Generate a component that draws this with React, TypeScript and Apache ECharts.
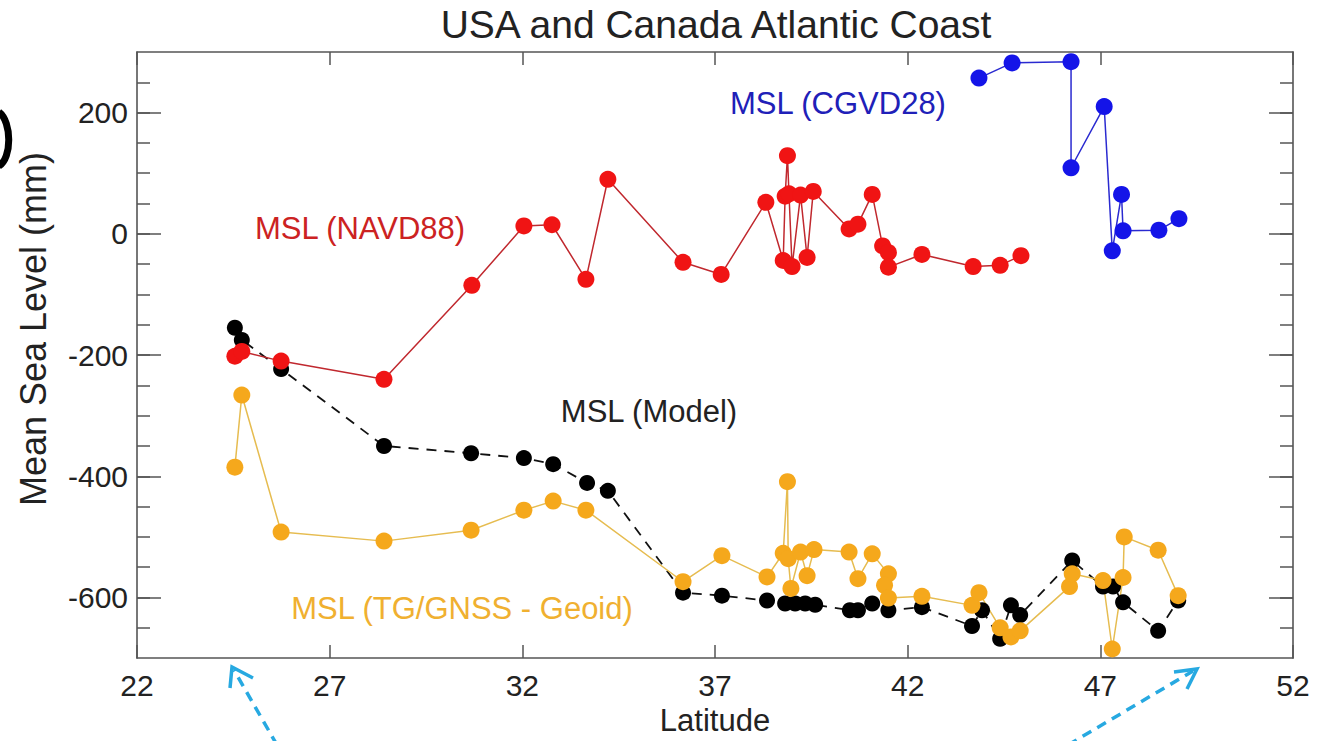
import React, { useEffect, useRef } from "react";
import * as echarts from "echarts";

const FONT = "'Liberation Sans', Arial, Helvetica, sans-serif";

// Tick labels
const xTickValues = [22, 27, 32, 37, 42, 47, 52];
const yLabelValues = [-600, -400, -200, 0, 200];
const yMinorTicks = [-650, -600, -550, -500, -450, -400, -350, -300, -250, -200, -150, -100, -50, 0, 50, 100, 150, 200, 250];

// MSL (NAVD88) - red
const latRed = [24.54, 24.72, 25.74, 28.41, 30.69, 32.04, 32.77, 33.65, 34.22, 36.17, 37.16, 38.32, 38.77, 38.82, 38.88, 38.92, 39.0, 39.22, 39.39, 39.55, 40.48, 40.71, 41.08, 41.35, 41.5, 41.5, 42.37, 43.7, 44.4, 44.94];
const mslRed = [-202, -194, -210, -240, -85, 13, 15, -75, 90, -47, -67, 52, -44, 62, 129, 66, -54, 64, -39, 70, 8, 16, 65, -20, -31, -55, -34, -54, -52, -36];

// MSL (CGVD28) - blue
const latBlue = [43.85, 44.71, 46.24, 46.24, 47.1, 47.31, 47.55, 47.59, 48.52, 49.04];
const mslBlue = [257, 282, 284, 109, 210, -28, 65, 5, 6, 25];

// MSL (Model) - black dashed
const latModel = [24.54, 24.72, 25.74, 28.41, 30.67, 32.04, 32.8, 33.68, 34.22, 36.17, 37.18, 38.35, 38.82, 39.08, 39.34, 39.6, 40.5, 40.71, 41.08, 41.5, 42.37, 43.67, 43.93, 44.4, 44.68, 44.92, 46.27, 47.07, 47.33, 47.59, 48.5, 49.02];
const mslModel = [-155, -175, -223, -350, -362, -370, -380, -411, -424, -592, -597, -605, -610, -610, -610, -612, -621, -621, -610, -621, -616, -647, -621, -668, -613, -629, -539, -582, -582, -608, -655, -605];

// MSL (TG/GNSS - Geoid) - orange
const latTG = [24.54, 24.72, 25.74, 28.41, 30.67, 32.04, 32.8, 33.65, 36.17, 37.18, 38.35, 38.77, 38.88, 38.9, 38.97, 39.22, 39.39, 39.57, 40.48, 40.71, 41.08, 41.5, 41.4, 41.5, 42.37, 43.67, 43.85, 44.4, 44.68, 44.92, 46.2, 46.27, 47.07, 47.31, 47.59, 47.62, 48.5, 49.02];
const mslTG = [-385, -266, -492, -507, -489, -456, -441, -456, -574, -531, -566, -527, -409, -536, -585, -525, -564, -521, -525, -569, -528, -561, -580, -601, -598, -613, -592, -650, -665, -655, -582, -561, -572, -685, -567, -500, -522, -597];

const pair = (xs: number[], ys: number[]) => xs.map((x, i) => [x, ys[i]]);

export default function App() {
  const ref = useRef<HTMLDivElement>(null);
  useEffect(() => {
    if (!ref.current) return;
    const chart = echarts.init(ref.current, undefined, { renderer: "svg" });
    const axisColor = "#555";
    const yBase = {
      type: "value",
      min: -700,
      max: 300,
      splitLine: { show: false },
    };
    const xLine = { show: true, onZero: false, lineStyle: { color: axisColor, width: 1.6 } };
    const yLine = { show: true, onZero: false, lineStyle: { color: axisColor, width: 1.6 } };
    const option: any = {
      animation: false,
      backgroundColor: "#fff",
      grid: { left: 137, right: 26, top: 52, bottom: 75 },
      xAxis: [
        {
          type: "value",
          min: 22,
          max: 52,
          position: "bottom",
          axisLine: xLine,
          axisTick: { show: true, inside: true, length: 13, customValues: xTickValues, lineStyle: { color: axisColor, width: 1.5 } },
          axisLabel: { customValues: xTickValues, fontSize: 30, color: "#222", margin: 12, fontFamily: FONT },
          splitLine: { show: false },
          name: "Latitude",
          nameLocation: "middle",
          nameGap: 44,
          nameTextStyle: { fontSize: 31, color: "#222", fontFamily: FONT },
        },
        {
          type: "value",
          min: 22,
          max: 52,
          position: "top",
          axisLine: xLine,
          axisTick: { show: true, inside: true, length: 13, customValues: xTickValues, lineStyle: { color: axisColor, width: 1.5 } },
          axisLabel: { show: false },
          splitLine: { show: false },
        },
      ],
      yAxis: [
        {
          ...yBase,
          position: "left",
          axisLine: yLine,
          axisTick: { show: true, inside: true, length: 13, customValues: yMinorTicks, lineStyle: { color: axisColor, width: 1.5 } },
          axisLabel: { customValues: yLabelValues, fontSize: 30, color: "#222", margin: 9, fontFamily: FONT },
        },
        {
          ...yBase,
          position: "left",
          axisLine: { show: false, onZero: false },
          axisTick: { show: true, inside: true, length: 24, customValues: yLabelValues, lineStyle: { color: axisColor, width: 1.5 } },
          axisLabel: { show: false },
        },
        {
          ...yBase,
          position: "right",
          axisLine: yLine,
          axisTick: { show: true, inside: true, length: 13, customValues: yMinorTicks, lineStyle: { color: axisColor, width: 1.5 } },
          axisLabel: { show: false },
        },
        {
          ...yBase,
          position: "right",
          axisLine: { show: false, onZero: false },
          axisTick: { show: true, inside: true, length: 24, customValues: yLabelValues, lineStyle: { color: axisColor, width: 1.5 } },
          axisLabel: { show: false },
        },
      ],
      series: [
        {
          name: "MSL (Model)",
          type: "line",
          data: pair(latModel, mslModel),
          symbol: "circle",
          symbolSize: 16,
          itemStyle: { color: "#000" },
          lineStyle: { color: "#111", width: 1.8, type: [10, 8] },
        },
        {
          name: "MSL (NAVD88)",
          type: "line",
          data: pair(latRed, mslRed),
          symbol: "circle",
          symbolSize: 17,
          itemStyle: { color: "#f01414" },
          lineStyle: { color: "#c0282e", width: 1.5 },
        },
        {
          name: "MSL (CGVD28)",
          type: "line",
          data: pair(latBlue, mslBlue),
          symbol: "circle",
          symbolSize: 17,
          itemStyle: { color: "#1414e8" },
          lineStyle: { color: "#2a2ad0", width: 1.5 },
        },
        {
          name: "MSL (TG/GNSS - Geoid)",
          type: "line",
          data: pair(latTG, mslTG),
          symbol: "circle",
          symbolSize: 17,
          itemStyle: { color: "#f5a81c" },
          lineStyle: { color: "#e6bc50", width: 1.5 },
        },
      ],
      graphic: [
        {
          type: "text",
          x: 716,
          y: 24,
          style: { text: "USA and Canada Atlantic Coast", fontSize: 39, fill: "#222", fontFamily: FONT, textAlign: "center", textVerticalAlign: "middle" },
        },
        {
          type: "text",
          x: 33,
          y: 329,
          rotation: Math.PI / 2,
          style: { text: "Mean Sea Level (mm)", fontSize: 36, fill: "#222", fontFamily: FONT, textAlign: "center", textVerticalAlign: "middle" },
        },
        {
          type: "bezierCurve",
          shape: { x1: -1, y1: 112, cpx1: 12, cpy1: 122, cpx2: 12, cpy2: 158, x2: -1, y2: 166 },
          style: { stroke: "#000", lineWidth: 7, fill: null },
        },
        {
          type: "text",
          x: 838,
          y: 103,
          style: { text: "MSL (CGVD28)", fontSize: 31, fill: "#2020b8", fontFamily: FONT, textAlign: "center", textVerticalAlign: "middle" },
        },
        {
          type: "text",
          x: 360,
          y: 228,
          style: { text: "MSL (NAVD88)", fontSize: 31, fill: "#cc2222", fontFamily: FONT, textAlign: "center", textVerticalAlign: "middle" },
        },
        {
          type: "text",
          x: 649,
          y: 411,
          style: { text: "MSL (Model)", fontSize: 31, fill: "#222", fontFamily: FONT, textAlign: "center", textVerticalAlign: "middle" },
        },
        {
          type: "text",
          x: 462,
          y: 608,
          style: { text: "MSL (TG/GNSS - Geoid)", fontSize: 31, fill: "#f0b030", fontFamily: FONT, textAlign: "center", textVerticalAlign: "middle" },
        },
        {
          type: "polyline",
          shape: { points: [[277, 745], [234, 670]] },
          style: { stroke: "#27a9e1", lineWidth: 3.5, lineDash: [10, 7], fill: null },
        },
        {
          type: "polyline",
          shape: { points: [[230, 688], [232, 667], [253, 678]] },
          style: { stroke: "#27a9e1", lineWidth: 3.5, fill: null },
        },
        {
          type: "polyline",
          shape: { points: [[1068, 745], [1193, 671]] },
          style: { stroke: "#27a9e1", lineWidth: 3.5, lineDash: [10, 7], fill: null },
        },
        {
          type: "polyline",
          shape: { points: [[1174, 672], [1197, 669], [1187, 689]] },
          style: { stroke: "#27a9e1", lineWidth: 3.5, fill: null },
        },
      ],
    };
    chart.setOption(option);
    return () => chart.dispose();
  }, []);
  return (
    <div
      ref={ref}
      style={{ position: "fixed", left: 0, top: 0, width: 1319, height: 741, background: "#fff" }}
    />
  );
}
